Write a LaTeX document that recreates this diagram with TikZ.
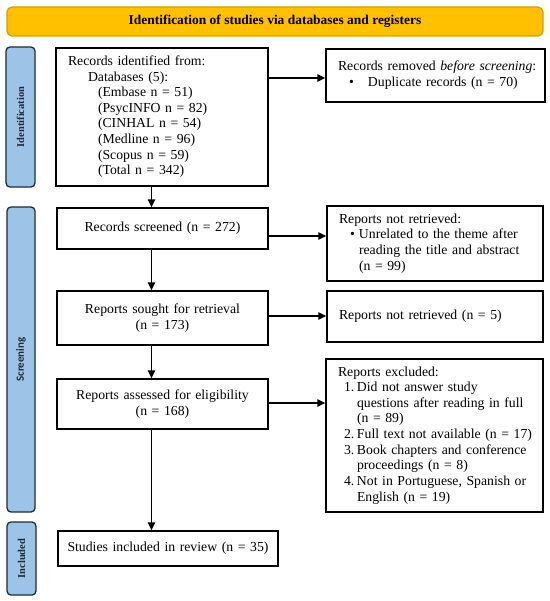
\documentclass[tikz,border=0pt]{standalone}
\usepackage{fontspec}
\setmainfont{Liberation Serif}
\newfontfamily\carlito{Carlito}
\usetikzlibrary{arrows.meta}
\definecolor{hdr}{HTML}{FFC000}
\definecolor{hdrb}{HTML}{D49E00}
\definecolor{barf}{HTML}{9DC3E6}
\definecolor{barb}{HTML}{1F2B38}
\newcommand{\lines}[1]{\begin{tabular}{@{}l@{}}#1\end{tabular}}
\begin{document}
\begin{tikzpicture}[x=1bp,y=-1bp,
  box/.style={draw=black, line width=1.5bp, fill=white, inner sep=0pt,
    font=\fontsize{13.8}{15.7}\selectfont},
  cbox/.style={box, align=center},
  lbox/.style={box, align=left, inner xsep=12bp},
  arr/.style={line width=1.6bp, -{Triangle[length=8bp,width=7.5bp]}},
  bar/.style={draw=barb, fill=barf, line width=1.3bp, rounded corners=4bp, inner sep=0pt},
  barlabel/.style={rotate=90, text=barb, font=\fontsize{10.5}{12}\selectfont\bfseries},
  hdrbox/.style={draw=hdrb, fill=hdr, line width=1.2bp, rounded corners=5bp, inner sep=0pt,
    font=\fontsize{13.5}{15}\selectfont\bfseries}
]
\useasboundingbox (0,0) rectangle (550,601);

% header
\node[hdrbox, minimum width=536bp, minimum height=29bp] (hdr) at (275,21.5)
  {Identification of studies via databases and registers};

% side bars
\node[bar, minimum width=29bp, minimum height=140bp] (idbar) at (20.5,117) {};
\node[barlabel] (idlab) at (idbar.center) {Identification};
\node[bar, minimum width=28bp, minimum height=305bp] (scbar) at (21,359.5) {};
\node[barlabel, font=\fontsize{11}{12}\carlito\bfseries] (sclab) at (scbar.center) {Screening};
\node[bar, minimum width=29bp, minimum height=73bp] (inbar) at (21.5,558.5) {};
\node[barlabel] (inlab) at (inbar.center) {Included};

% left column
\node[lbox, text width=188bp, minimum height=138bp] (ident) at (162,117)
  {\lines{Records identified from:\\
   \hspace*{20bp}Databases (5):\\
   \hspace*{30bp}(Embase n = 51)\\
   \hspace*{30bp}(PsycINFO n = 82)\\
   \hspace*{30bp}(CINHAL n = 54)\\
   \hspace*{30bp}(Medline n = 96)\\
   \hspace*{30bp}(Scopus n = 59)\\
   \hspace*{30bp}(Total n = 342)}};
\node[cbox, text width=211bp, minimum height=41bp] (screened) at (162.5,228.5)
  {Records screened (n = 272)};
\node[cbox, text width=211bp, minimum height=54bp] (sought) at (162.5,318)
  {Reports sought for retrieval\\(n = 173)};
\node[cbox, text width=211bp, minimum height=50bp] (assessed) at (162.5,404)
  {Reports assessed for eligibility\\(n = 168)};
\node[cbox, text width=220bp, minimum height=35bp] (studies) at (168,548.5)
  {Studies included in review (n = 35)};

% right column
\node[lbox, text width=195bp, minimum height=53bp] (removed) at (435.5,75.5)
  {\lines{Records removed \textit{before screening}:\\
   \hspace*{11bp}\makebox[19bp][l]{\textbullet}Duplicate records (n = 70)}\\[3bp]};
\node[lbox, text width=192bp, minimum height=75bp] (nr1) at (435,243.5)
  {\lines{Reports not retrieved:\\
   \hspace*{11bp}\makebox[9bp][l]{\textbullet}Unrelated to the theme after\\
   \hspace*{20bp}reading the title and abstract\\
   \hspace*{20bp}(n = 99)}};
\node[lbox, text width=192bp, minimum height=51bp] (nr2) at (435,316.5)
  {Reports not retrieved (n = 5)};
\node[lbox, text width=193bp, minimum height=153bp] (excluded) at (434.5,435.5)
  {\lines{Reports excluded:\\
   \hspace*{6bp}\makebox[13bp][l]{1.}Did not answer study\\
   \hspace*{19bp}questions after reading in full\\
   \hspace*{19bp}(n = 89)\\
   \hspace*{6bp}\makebox[13bp][l]{2.}Full text not available (n = 17)\\
   \hspace*{6bp}\makebox[13bp][l]{3.}Book chapters and conference\\
   \hspace*{19bp}proceedings (n = 8)\\
   \hspace*{6bp}\makebox[13bp][l]{4.}Not in Portuguese, Spanish or\\
   \hspace*{19bp}English (n = 19)}};

% connectors
\coordinate (ax) at (151.5,0);
\coordinate (y0) at (0,78);
\coordinate (y1) at (0,236);
\coordinate (y2) at (0,316);
\coordinate (y3) at (0,403);
\draw[arr] (ident.south -| ax) -- (screened.north -| ax);
\draw[arr] (screened.south -| ax) -- (sought.north -| ax);
\draw[arr] (sought.south -| ax) -- (assessed.north -| ax);
\draw[arr] (assessed.south -| ax) -- (studies.north -| ax);
\draw[arr] (ident.east |- y0) -- (removed.west |- y0);
\draw[arr] (screened.east |- y1) -- (nr1.west |- y1);
\draw[arr] (sought.east |- y2) -- (nr2.west |- y2);
\draw[arr] (assessed.east |- y3) -- (excluded.west |- y3);
\end{tikzpicture}
\end{document}
